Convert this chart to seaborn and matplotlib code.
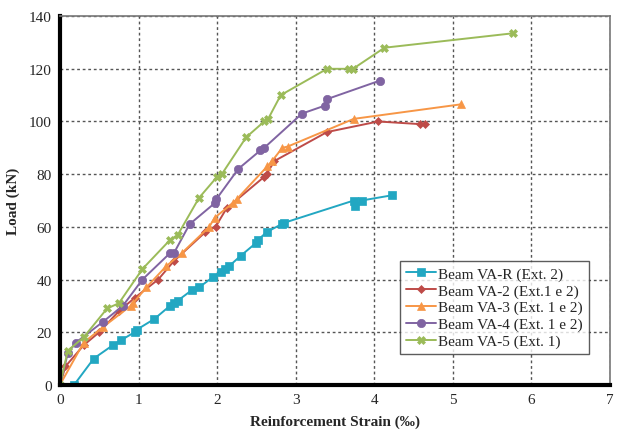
import pandas as pd
import seaborn as sns
import matplotlib.pyplot as plt

# strain (per mille) / load (kN)
va_r_x = [0.18, 0.43, 0.67, 0.78, 0.95, 0.98, 1.2, 1.4, 1.45, 1.5, 1.68, 1.77, 1.95, 2.05, 2.1, 2.15,
          2.3, 2.5, 2.52, 2.63, 2.82, 2.85, 3.74, 3.76, 3.84, 4.23]
va_r_y = [0, 10, 15, 17, 20, 21, 25, 30, 31, 32, 36, 37, 41, 43, 44, 45,
          49, 54, 55, 58, 61, 61.5, 70, 68, 70, 72]

va_2_x = [0, 0.07, 0.3, 0.5, 0.75, 0.95, 1.25, 1.45, 1.85, 1.98, 2.12, 2.6, 2.63, 2.73, 3.4, 4.05, 4.58, 4.64]
va_2_y = [0, 7, 15, 20, 28, 33, 40, 47, 58, 60, 67, 79, 80, 85, 96, 100, 99, 99]

va_3_x = [0, 0.3, 0.55, 0.9, 0.93, 1.1, 1.35, 1.55, 1.9, 1.97, 2.2, 2.25, 2.64, 2.7, 2.83, 2.9, 3.74, 5.1]
va_3_y = [0, 16, 22, 30, 31, 37, 45, 50, 60, 63.5, 69, 70.5, 83, 85, 90, 90.5, 101, 106.5]

va_4_x = [0, 0.1, 0.2, 0.55, 0.8, 1.05, 1.4, 1.45, 1.65, 1.97, 1.99, 2.27, 2.55, 2.6, 3.08, 3.37, 3.4, 4.07]
va_4_y = [0, 12, 16, 24, 30, 40, 50, 50, 61, 69, 70.5, 82, 89, 90, 103, 106, 108.5, 115.5]

va_5_x = [0, 0.1, 0.3, 0.6, 0.75, 1.05, 1.4, 1.5, 1.77, 2.0, 2.06, 2.37, 2.6, 2.65, 2.81, 3.4, 3.68, 3.73,
          4.13, 5.77]
va_5_y = [0, 13, 18, 29, 31, 44, 55, 57, 71, 79, 80, 94, 100, 101, 110, 120, 120, 120, 128, 133.5]

labels = ["Beam VA-R (Ext. 2)", "Beam VA-2 (Ext.1 e 2)", "Beam VA-3 (Ext. 1 e 2)",
          "Beam VA-4 (Ext. 1 e 2)", "Beam VA-5 (Ext. 1)"]
colors = ["#22A7C2", "#BE4B48", "#F79646", "#8064A2", "#9BBB59"]
markers = ["s", "D", "^", "o", "X"]
sizes = [6, 4, 6, 6, 6]

series = [(va_r_x, va_r_y), (va_2_x, va_2_y), (va_3_x, va_3_y), (va_4_x, va_4_y), (va_5_x, va_5_y)]

sns.set_style("white")
plt.rcParams['font.family'] = ['Liberation Serif', 'DejaVu Serif']

fig = plt.figure(figsize=(6.18, 4.39), dpi=100)
ax = fig.add_axes([0.097, 0.121, 0.89, 0.84])

for (xs, ys), lab, col, mk, ms in zip(series, labels, colors, markers, sizes):
    df = pd.DataFrame({'strain': xs, 'load': ys})
    sns.lineplot(data=df, x='strain', y='load', ax=ax, sort=False, estimator=None,
                 color=col, marker=mk, markersize=ms, markeredgewidth=0.5,
                 markeredgecolor=col, linewidth=1.4, label=lab)

ax.set_xlim(0, 7)
ax.set_ylim(0, 140)
ax.set_xticks(range(0, 8))
ax.set_yticks(range(0, 141, 20))
ax.grid(True, linestyle=(0, (2, 2)), color='#555555', linewidth=1.0)
ax.tick_params(length=0, labelsize=11, pad=6)

for side in ['left', 'bottom']:
    ax.spines[side].set_color('black')
    ax.spines[side].set_linewidth(3)
for side in ['top', 'right']:
    ax.spines[side].set_color('#777777')
    ax.spines[side].set_linewidth(1.2)

ax.set_xlabel('Reinforcement Strain (‰)', fontsize=11, fontweight='bold', labelpad=6)
ax.set_ylabel('Load (kN)', fontsize=11, fontweight='bold', labelpad=6)

leg = ax.legend(loc='lower right', bbox_to_anchor=(0.975, 0.062), fontsize=11, frameon=True,
                fancybox=False, edgecolor='#333333', borderpad=0.4, labelspacing=0.2,
                handlelength=2.0, handletextpad=0.1)
leg.get_frame().set_linewidth(1.0)

fig.savefig('out.png', dpi=100)
